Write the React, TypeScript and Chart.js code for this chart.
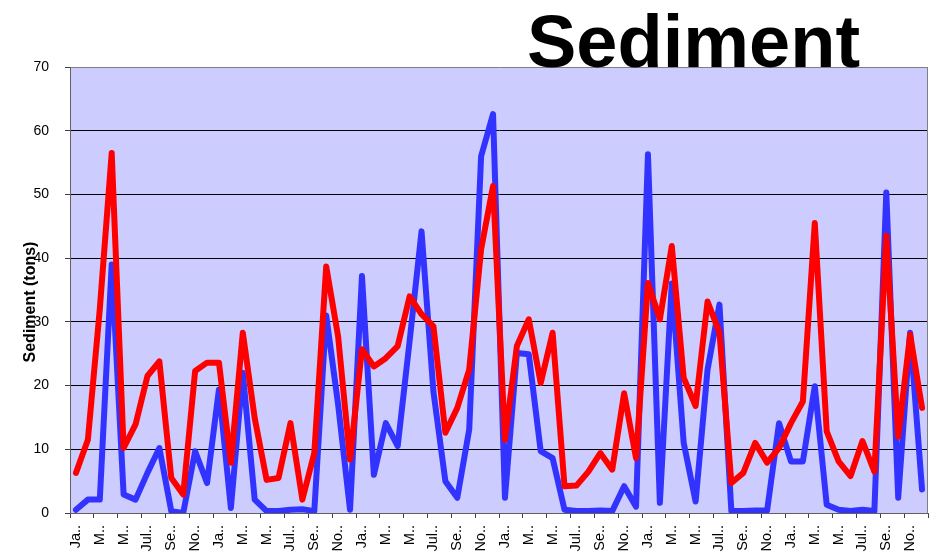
import React, { useEffect, useRef } from "react";
import { Chart, registerables } from "chart.js";

Chart.register(...registerables);

// Month labels as displayed (truncated) — six years of monthly data
const monthLabels = ["Ja..", "F..", "M..", "A..", "M..", "Jun..", "Jul..", "A..", "Se..", "O..", "No..", "D.."];
const yearCount = 6;
const categories: string[] = [];
for (let y = 0; y < yearCount; y++) {
  for (const m of monthLabels) categories.push(m);
}

// Red series (tons)
const redSeries = [
  6.3, 11.5, 32, 56.5, 10.2, 13.9, 21.5, 23.8, 5.5, 2.9, 22.3, 23.6,
  23.6, 7.9, 28.3, 14.9, 5.2, 5.5, 14.1, 2.1, 9.4, 38.7, 27.7, 8.4,
  25.7, 23.0, 24.3, 26.2, 34.0, 31.2, 29.3, 12.6, 16.5, 22.5, 41.4, 51.3,
  11.5, 26.2, 30.4, 20.4, 28.3, 4.2, 4.3, 6.5, 9.4, 6.8, 18.8, 8.6,
  36.1, 30.4, 41.9, 21.2, 16.8, 33.2, 28.3, 4.7, 6.3, 11.0, 7.9, 10.2,
  14.1, 17.5, 45.5, 12.8, 8.1, 5.8, 11.3, 6.5, 43.5, 12.0, 28.0, 16.5,
];

// Blue series (tons)
const blueSeries = [
  0.5, 2.1, 2.1, 39, 2.9, 2.1, 6.3, 10.2, 0.3, 0, 9.7, 4.7,
  19.4, 0.8, 22, 2.1, 0.3, 0.3, 0.5, 0.6, 0.3, 31, 17, 0.5,
  37.2, 6.0, 14.1, 10.5, 27, 44.2, 19, 5.0, 2.4, 13.1, 56, 62.6,
  2.4, 25.1, 24.9, 9.7, 8.6, 0.5, 0.3, 0.3, 0.4, 0.3, 4.2, 1.0,
  56.3, 1.6, 36, 11, 1.8, 22.5, 32.7, 0.3, 0.3, 0.4, 0.4, 14.1,
  8.1, 8.1, 19.9, 1.3, 0.5, 0.3, 0.5, 0.3, 50.3, 2.4, 28.3, 3.7,
];

const yMin = 0;
const yMax = 70;
const yStep = 10;

const chartTitle = "Sediment";
const yAxisTitle = "Sediment (tons)";

const FONT = '"Liberation Sans", Arial, Helvetica, sans-serif';

const plotPlugin = {
  id: "plotDecor",
  beforeDraw(chart: any) {
    const { ctx, chartArea } = chart;
    ctx.save();
    ctx.fillStyle = "#CCCCFF";
    ctx.fillRect(chartArea.left, chartArea.top, chartArea.right - chartArea.left, chartArea.bottom - chartArea.top);
    ctx.restore();
  },
  beforeDatasetsDraw(chart: any) {
    const { ctx, chartArea } = chart;
    ctx.save();
    ctx.strokeStyle = "#808080";
    ctx.lineWidth = 1;
    ctx.beginPath();
    ctx.moveTo(Math.round(chartArea.right) - 0.5, chartArea.top);
    ctx.lineTo(Math.round(chartArea.right) - 0.5, chartArea.bottom);
    ctx.stroke();
    ctx.restore();
  },
  afterDraw(chart: any) {
    const { ctx } = chart;
    ctx.save();
    ctx.fillStyle = "#000";
    ctx.font = `bold 74px ${FONT}`;
    ctx.textAlign = "left";
    ctx.textBaseline = "alphabetic";
    ctx.fillText(chartTitle, 527, 67);

    ctx.translate(31, 302);
    ctx.rotate(-Math.PI / 2);
    ctx.font = `bold 16px ${FONT}`;
    ctx.textAlign = "center";
    ctx.textBaseline = "middle";
    ctx.fillText(yAxisTitle, 0, 0);
    ctx.restore();
  },
};

export default function App() {
  const canvasRef = useRef<HTMLCanvasElement | null>(null);

  useEffect(() => {
    const canvas = canvasRef.current;
    if (!canvas) return;
    const chart = new Chart(canvas, {
      type: "line",
      data: {
        labels: categories,
        datasets: [
          {
            label: "Red",
            data: redSeries,
            borderColor: "#FF0000",
            backgroundColor: "#FF0000",
            borderWidth: 6,
            pointRadius: 0,
            tension: 0,
            fill: false,
            borderJoinStyle: "round",
            borderCapStyle: "round",
            order: 0,
          },
          {
            label: "Blue",
            data: blueSeries,
            borderColor: "#3333FF",
            backgroundColor: "#3333FF",
            borderWidth: 6,
            pointRadius: 0,
            tension: 0,
            fill: false,
            borderJoinStyle: "round",
            borderCapStyle: "round",
            order: 1,
          },
        ],
      },
      options: {
        animation: false,
        responsive: false,
        maintainAspectRatio: false,
        layout: { padding: { top: 67, right: 2, left: 0, bottom: 0 } },
        plugins: {
          legend: { display: false },
          title: { display: false },
          tooltip: { enabled: false },
        },
        scales: {
          x: {
            type: "category",
            offset: true,
            grid: {
              offset: true,
              drawOnChartArea: false,
              drawTicks: true,
              tickLength: 5,
              tickColor: (ctx: any) =>
                ctx.index === undefined || ctx.index % 2 === 0 ? "#404040" : "rgba(0,0,0,0)",
            },
            border: { color: "#606060", width: 1 },
            ticks: {
              autoSkip: false,
              maxRotation: 90,
              minRotation: 90,
              padding: 7,
              color: "#000",
              font: { family: FONT, size: 14.5 },
              callback: (_v: any, i: number) => (i % 2 === 0 ? categories[i] : ""),
            },
            afterFit: (s: any) => {
              s.height = 44;
              s.paddingLeft = 0;
              s.paddingRight = 0;
            },
          },
          y: {
            min: yMin,
            max: yMax,
            ticks: {
              stepSize: yStep,
              padding: 16,
              color: "#000",
              font: { family: FONT, size: 14 },
            },
            grid: {
              color: (ctx: any) => (ctx.tick && ctx.tick.value === yMax ? "#808080" : "#000000"),
              lineWidth: 1,
              tickLength: 5,
              tickColor: "#404040",
            },
            border: { color: "#606060", width: 1 },
            afterFit: (s: any) => {
              s.width = 70;
              s.paddingTop = 0;
              s.paddingBottom = 0;
            },
          },
        },
      },
      plugins: [plotPlugin],
    });
    return () => chart.destroy();
  }, []);

  return (
    <div style={{ position: "absolute", left: 0, top: 0, width: 930, height: 557, background: "#fff" }}>
      <canvas ref={canvasRef} width={930} height={557} style={{ display: "block" }} />
    </div>
  );
}
